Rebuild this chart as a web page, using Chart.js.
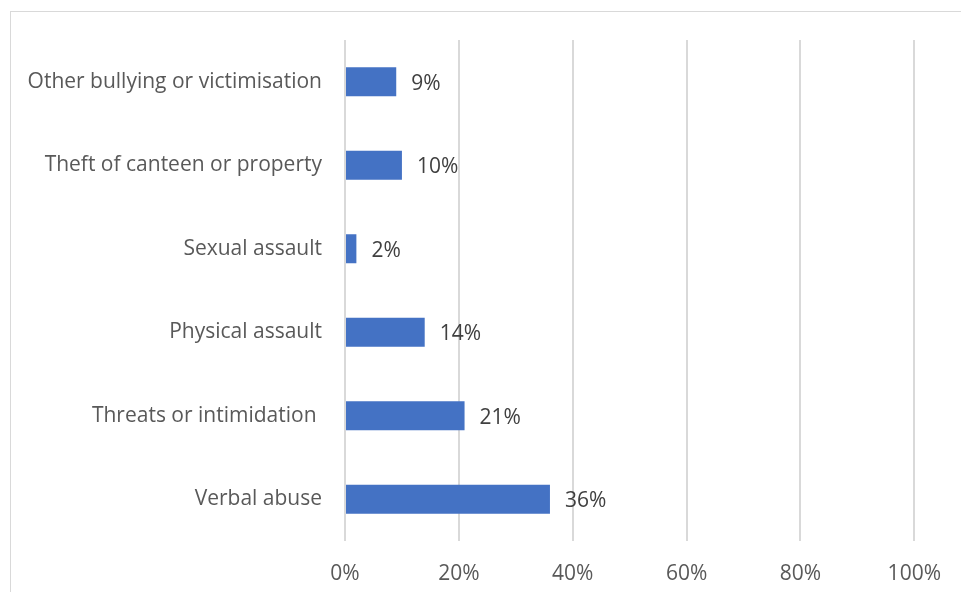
<!DOCTYPE html>
<html>
<head>
<meta charset="utf-8">
<script src="https://cdn.jsdelivr.net/npm/chart.js@4/dist/chart.umd.min.js"></script>
<style>
    html, body { margin: 0; padding: 0; background: #fff; }
    #wrap { width: 961px; height: 592px; }
</style>
</head>
<body>
<div id="wrap"><canvas id="chart" width="961" height="592"></canvas></div>
<script>
const categories = [
    'Other bullying or victimisation',
    'Theft of canteen or property',
    'Sexual assault',
    'Physical assault',
    'Threats or intimidation ',
    'Verbal abuse'
];
const percentages = [9, 10, 2, 14, 21, 36];
const tickValues = [0, 20, 40, 60, 80, 100];

const fontFamily = '"Open Sans", sans-serif';
const fontSize = 21;

// thin frame around the chart, cut off at the right and bottom edges
const framePlugin = {
    id: 'frame',
    beforeDraw(chart) {
        const ctx = chart.ctx;
        ctx.save();
        ctx.strokeStyle = '#d9d9d9';
        ctx.lineWidth = 1;
        ctx.strokeRect(10.5, 11.5, 2000, 2000);
        ctx.restore();
    }
};

// value labels just past the end of each bar
const valueLabels = {
    id: 'valueLabels',
    afterDatasetsDraw(chart) {
        const ctx = chart.ctx;
        const meta = chart.getDatasetMeta(0);
        ctx.save();
        ctx.font = fontSize + 'px ' + fontFamily;
        ctx.fillStyle = '#404040';
        ctx.textAlign = 'left';
        ctx.textBaseline = 'middle';
        meta.data.forEach((bar, i) => {
            ctx.fillText(percentages[i] + '%', bar.x + 15, bar.y + 2);
        });
        ctx.restore();
    }
};

new Chart(document.getElementById('chart'), {
    type: 'bar',
    data: {
        labels: categories,
        datasets: [{
            data: percentages,
            backgroundColor: '#4472c4',
            barPercentage: 0.35,
            categoryPercentage: 1
        }]
    },
    options: {
        indexAxis: 'y',
        responsive: false,
        animation: false,
        layout: { padding: { top: 40, right: 44, bottom: 0, left: 0 } },
        plugins: {
            legend: { display: false },
            tooltip: { enabled: false }
        },
        scales: {
            x: {
                min: 0,
                max: 100,
                afterBuildTicks(scale) {
                    scale.ticks = tickValues.map(v => ({ value: v }));
                },
                afterFit(scale) { scale.height = 51; },
                border: { display: false },
                grid: { color: '#d9d9d9', lineWidth: 2, drawTicks: false },
                ticks: {
                    padding: 20,
                    color: '#595959',
                    font: { family: fontFamily, size: fontSize },
                    callback: v => v + '%'
                }
            },
            y: {
                afterFit(scale) { scale.width = 345; },
                border: { display: false },
                grid: { display: false, drawTicks: false },
                ticks: {
                    padding: 23,
                    color: '#595959',
                    font: { family: fontFamily, size: fontSize }
                }
            }
        }
    },
    plugins: [framePlugin, valueLabels]
});
</script>
</body>
</html>
